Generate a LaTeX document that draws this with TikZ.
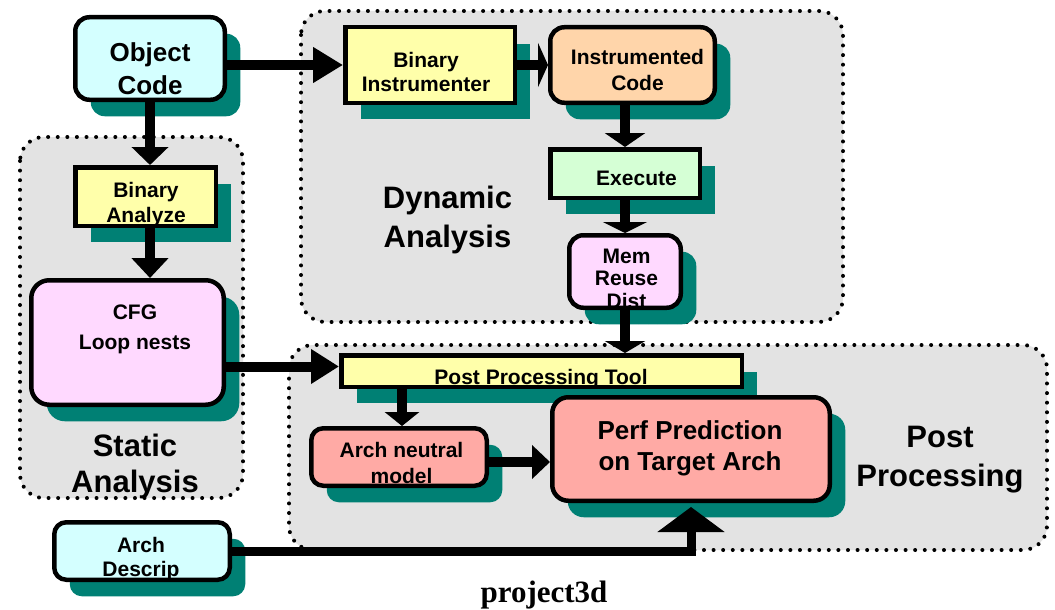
\documentclass[tikz,border=0pt]{standalone}
\usepackage{fontspec}
\setmainfont{Liberation Sans}
\newfontfamily\serifb{Liberation Serif}
\usetikzlibrary{arrows.meta,shadows}
\definecolor{shade}{RGB}{0,128,116}
\definecolor{regiongray}{RGB}{227,227,227}
\definecolor{cyanfill}{RGB}{212,255,255}
\definecolor{yellowfill}{RGB}{255,255,170}
\definecolor{peachfill}{RGB}{255,213,170}
\definecolor{greenfill}{RGB}{213,255,213}
\definecolor{pinkfill}{RGB}{255,217,255}
\definecolor{salmonfill}{RGB}{255,170,165}
\tikzset{
  region/.style={fill=regiongray, draw=black, line width=4pt, dash pattern=on 0pt off 9.6pt, line cap=round, rounded corners=24pt},
  box/.style={draw=black, line width=4.5pt, inner sep=0pt,
    drop shadow={shadow xshift=15.5pt, shadow yshift=-16.5pt, fill=shade, opacity=1}},
  rbox/.style={box, rounded corners=14pt},
  txt/.style={font=\bfseries\fontsize{21}{24}\selectfont, align=center, inner sep=0pt},
  midtxt/.style={font=\bfseries\fontsize{26}{32}\selectfont, align=center, inner sep=0pt},
  bigtxt/.style={font=\bfseries\fontsize{31}{38}\selectfont, align=center, inner sep=0pt},
  conn/.style={line width=10pt, -{Triangle[length=18pt,width=36pt]}},
}
\begin{document}
\begin{tikzpicture}[x=1pt,y=-1pt]
\useasboundingbox (0,0) rectangle (1055,610);
% regions
\path[region] (20,137) rectangle (243,498);
\path[region] (301,11) rectangle (843,322);
\path[region] (289,345) rectangle (1047,550);
% boxes
\node[rbox, fill=cyanfill, minimum width=149.5pt, minimum height=82.5pt] (oc) at (150,58.5) {};
\node[box, fill=yellowfill, minimum width=140.5pt, minimum height=58.5pt] (ba) at (145.5,196.5) {};
\node[rbox, rounded corners=18pt, fill=pinkfill, minimum width=192.5pt, minimum height=124.5pt] (cfg) at (127.5,342.5) {};
\node[box, fill=yellowfill, minimum width=169.5pt, minimum height=75.5pt] (bi) at (430,65) {};
\node[rbox, fill=peachfill, minimum width=164.5pt, minimum height=75.5pt] (ic) at (632.5,65) {};
\node[box, fill=greenfill, minimum width=149.5pt, minimum height=48.5pt] (ex) at (625,173.5) {};
\node[rbox, fill=pinkfill, minimum width=111.5pt, minimum height=72.5pt] (mem) at (625,271.5) {};
\node[box, fill=yellowfill, minimum width=400.5pt, minimum height=31.5pt] (ppt) at (541.5,371) {};
\node[rbox, rounded corners=12pt, fill=salmonfill, minimum width=175.5pt, minimum height=57.5pt] (an) at (399,457) {};
\node[rbox, rounded corners=16pt, fill=salmonfill, minimum width=277.5pt, minimum height=103.5pt] (perf) at (691,449) {};
\node[rbox, rounded corners=12pt, fill=cyanfill, minimum width=175.5pt, minimum height=57.5pt] (ad) at (142,551) {};
% connectors
\draw[conn, -{Triangle[length=30pt,width=34pt]}] (oc.east |- bi.west) -- (bi.west);
\draw[conn] (oc.south) -- (oc.south |- ba.north);
\draw[conn, -{Triangle[length=20pt,width=36pt]}] (oc.south |- ba.south) -- (oc.south |- cfg.north);
\draw[conn, -{Triangle[length=10pt,width=44pt]}] (bi.east) -- (ic.west);
\draw[conn, -{Triangle[length=14pt,width=40pt]}] (ex.north |- ic.south) -- (ex.north);
\draw[conn, -{Triangle[length=11pt,width=44pt]}] (ex.south) -- (mem.north);
\draw[conn, -{Triangle[length=12pt,width=40pt]}] (mem.south) -- (mem.south |- ppt.north);
\draw[conn, -{Triangle[length=28pt,width=33pt]}] ([yshift=4.5pt]cfg.east |- ppt.west) -- ([yshift=4.5pt]ppt.west);
\draw[conn, -{Triangle[length=14pt,width=34pt]}] ([xshift=3pt]an.north |- ppt.south) -- ([xshift=3pt]an.north);
\draw[conn, -{Triangle[length=18pt,width=33pt]}] ([yshift=-5pt]an.east) -- ([yshift=-5pt]an.east -| perf.west);
\draw[line width=9pt, -{Triangle[length=25pt,width=66pt]}, shorten >=4pt] (ad.east) -| (perf.south);
% texts
\node[midtxt, font=\bfseries\fontsize{26}{33}\selectfont] (t-oc) at (150,68.5) {Object\\Code};
\node[txt, font=\bfseries\fontsize{21}{25}\selectfont] (t-ba) at (146,204.5) {Binary\\Analyze};
\node[txt, font=\bfseries\fontsize{21}{30}\selectfont] (t-cfg) at (135,329) {CFG\\Loop nests};
\node[bigtxt, font=\bfseries\fontsize{31}{36}\selectfont] (t-static) at (135,466) {Static\\Analysis};
\node[txt] (t-bi) at (426,72) {Binary\\Instrumenter};
\node[txt, font=\bfseries\fontsize{21}{26}\selectfont] (t-ic) at (637.5,70) {Instrumented\\Code};
\node[txt] (t-ex) at (636.5,178.5) {Execute};
\node[txt, font=\bfseries\fontsize{21}{22.5}\selectfont] (t-mem) at (626.5,278.5) {Mem\\Reuse\\Dist};
\node[bigtxt, font=\bfseries\fontsize{31}{39}\selectfont] (t-dyn) at (447.5,219.5) {Dynamic\\Analysis};
\node[txt] (t-ppt) at (541,379.5) {Post Processing Tool};
\node[txt, font=\bfseries\fontsize{21}{26}\selectfont] (t-an) at (401.5,463) {Arch neutral\\model};
\node[midtxt, font=\bfseries\fontsize{26}{31}\selectfont] (t-perf) at (690,448) {Perf Prediction\\on Target Arch};
\node[bigtxt, font=\bfseries\fontsize{31}{39}\selectfont] (t-post) at (940,459.5) {Post\\Processing};
\node[txt] (t-ad) at (141,559) {Arch\\Descrip};
\node[font=\serifb\bfseries\fontsize{31}{36}\selectfont, anchor=base, inner sep=0pt] (t-cap) at (544,602) {project3d};
\end{tikzpicture}
\end{document}
